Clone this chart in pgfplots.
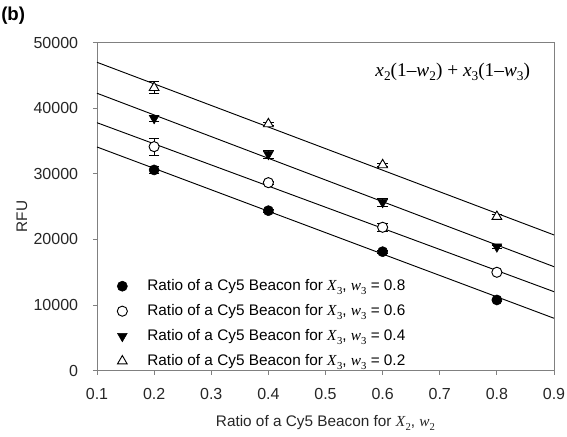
\documentclass[border=0pt]{standalone}
\usepackage{fontspec}
\setmainfont{Liberation Sans}
\newfontfamily\tms{Liberation Serif}
\usepackage{pgfplots}
\pgfplotsset{compat=1.18}
\definecolor{axgray}{RGB}{128,128,128}
% variable in Times italic with a lowered upright subscript
\newcommand{\tv}[2]{{\tms\itshape #1\/}\raisebox{-0.45ex}{\tms\fontsize{8}{8}\selectfont #2}}

\begin{document}
\begin{tikzpicture}
\begin{axis}[
    scale only axis,
    width=342.75pt, height=246pt,
    xmin=0.1, xmax=0.9, ymin=0, ymax=50000,
    xtick={0.1,0.2,...,0.9},
    ytick={0,10000,...,50000},
    axis line style={draw=axgray},
    tick style={draw=axgray, line width=0.6pt},
    tick align=outside,
    major tick length=3pt,
    xtick pos=bottom, ytick pos=left,
    scaled ticks=false,
    /pgf/number format/assume math mode=true,
    /pgf/number format/set thousands separator={},
    xticklabel style={/pgf/number format/fixed, /pgf/number format/precision=1, /pgf/number format/fixed zerofill,
        anchor=center, inner sep=0pt, yshift=-14.5pt},
    yticklabel style={anchor=east, inner sep=0pt, xshift=-11pt},
    tick label style={font=\fontsize{12}{14}\selectfont, text=black!85},
    label style={font=\fontsize{11.5}{14}\selectfont, text=black!85},
    xlabel style={at={(axis description cs:0.5,-0.16)}, anchor=center},
    ylabel style={at={(axis description cs:-0.164,0.47)}, anchor=center},
    xlabel={Ratio of a Cy5 Beacon for \tv{X}{2}, \tv{w}{2}},
    ylabel={RFU},
    legend style={at={(0.035,-0.008)}, anchor=south west, draw=none, fill=none,
        font=\fontsize{11.5}{14}\selectfont, row sep=4.9pt,
        legend cell align=left,
        /tikz/every odd column/.append style={column sep=13pt}},
    errs/.style={draw=none, forget plot, error bars/.cd, y dir=both, y explicit,
        error mark options={rotate=90, mark size=4pt, line width=0.6pt},
        error bar style={line width=0.6pt}},
]
% fitted lines
\addplot[black, line width=0.7pt, forget plot] coordinates {(0.1,34100) (0.9,7990)};
\addplot[black, line width=0.7pt, forget plot] coordinates {(0.1,37800) (0.9,12040)};
\addplot[black, line width=0.7pt, forget plot] coordinates {(0.1,42290) (0.9,15850)};
\addplot[black, line width=0.7pt, forget plot] coordinates {(0.1,47010) (0.9,20690)};
% error bars (drawn first, so the marks cover them)
\addplot[errs] coordinates {(0.2,30600) +- (0,600) (0.4,24390) +- (0,200) (0.6,18140) +- (0,200) (0.8,10780) +- (0,200)};
\addplot[errs] coordinates {(0.2,34150) +- (0,1270) (0.4,28660) +- (0,200) (0.6,21860) +- (0,620) (0.8,15000) +- (0,200)};
\addplot[errs] coordinates {(0.2,38475) +- (0,400) (0.4,32990) +- (0,560) (0.6,25670) +- (0,560) (0.8,18900) +- (0,250)};
\addplot[errs] coordinates {(0.2,43140) +- (0,900) (0.4,37610) +- (0,250) (0.6,31360) +- (0,250) (0.8,23480) +- (0,300)};
% measured points
\addplot[only marks, mark=*, mark size=3.8pt, mark options={fill=black, draw=black}]
    coordinates {(0.2,30600) (0.4,24390) (0.6,18140) (0.8,10780)};
\addplot[only marks, mark=*, mark size=3.8pt, mark options={fill=white, draw=black, line width=0.7pt}]
    coordinates {(0.2,34150) (0.4,28660) (0.6,21860) (0.8,15000)};
\addplot[only marks, mark=triangle*, mark size=4.2pt, mark options={fill=black, draw=black, rotate=180}]
    coordinates {(0.2,38475) (0.4,32990) (0.6,25670) (0.8,18900)};
\addplot[only marks, mark=triangle*, mark size=4.2pt, mark options={fill=white, draw=black, line width=0.7pt}]
    coordinates {(0.2,43140) (0.4,37610) (0.6,31360) (0.8,23480)};
\legend{{Ratio of a Cy5 Beacon for \tv{X}{3}, \tv{w}{3} = 0.8},
        {Ratio of a Cy5 Beacon for \tv{X}{3}, \tv{w}{3} = 0.6},
        {Ratio of a Cy5 Beacon for \tv{X}{3}, \tv{w}{3} = 0.4},
        {Ratio of a Cy5 Beacon for \tv{X}{3}, \tv{w}{3} = 0.2}}
\node[anchor=west, font=\tms\fontsize{14.5}{16}\selectfont, inner sep=0pt]
    at (axis cs:0.587,45500)
    {\textit{x}\raisebox{-0.45ex}{\fontsize{10}{10}\selectfont 2}(1\textendash\textit{w}\raisebox{-0.45ex}{\fontsize{10}{10}\selectfont 2}) + \textit{x}\raisebox{-0.45ex}{\fontsize{10}{10}\selectfont 3}(1\textendash\textit{w}\raisebox{-0.45ex}{\fontsize{10}{10}\selectfont 3})};
\end{axis}
\node[anchor=north west, font=\bfseries\fontsize{14}{16}\selectfont, inner sep=0pt] at (-72pt,273pt) {(b)};
\pgfresetboundingbox
\path[use as bounding box] (-72.75pt,-49pt) rectangle (352.5pt,278pt);
\end{tikzpicture}
\end{document}
